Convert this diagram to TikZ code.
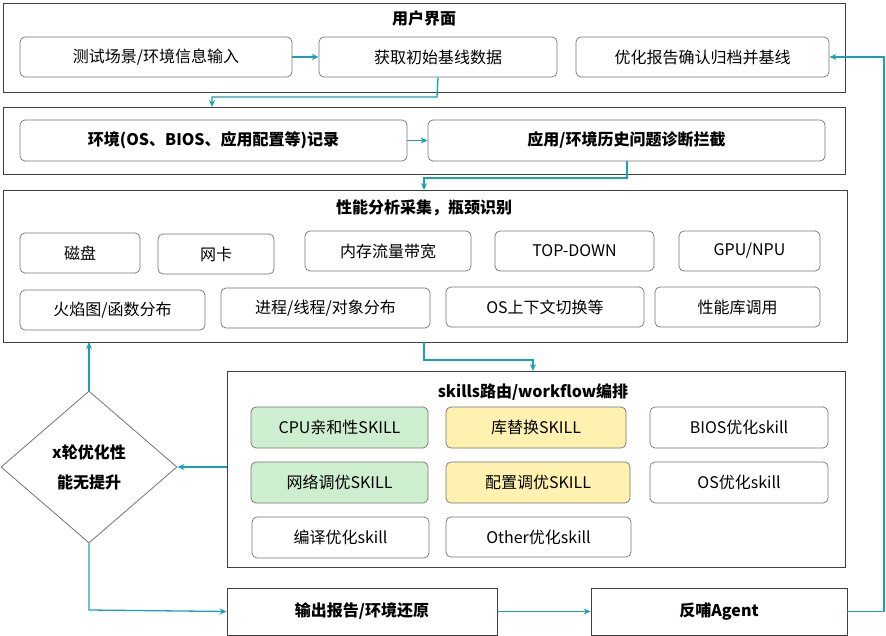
\documentclass[tikz,border=0pt]{standalone}
\usepackage{fontspec}
\setmainfont{Noto Sans CJK SC}
\usetikzlibrary{arrows.meta,shapes.geometric}
\definecolor{teal}{HTML}{1BA1B5}
\definecolor{gfill}{HTML}{CDEFCF}
\definecolor{yfill}{HTML}{FFF2B0}
\begin{document}
\begin{tikzpicture}[x=1pt,y=-1pt,
 outer/.style={draw=black!75,line width=0.8pt},
 bx/.style={draw=black!55,rounded corners=5pt,line width=0.7pt,font=\fontsize{16}{18}\selectfont},
 ttl/.style={font=\bfseries\fontsize{16}{18}\selectfont},
 ar/.style={draw=teal,line width=1.3pt,-{Stealth[length=7pt,width=6pt]}}]
\useasboundingbox (0,0) rectangle (886,636);
\newcommand\bxn[6][]{\node[bx,#1,minimum width=#4-#2,minimum height=#5-#3] (#6) at ({(#2+#4)/2},{(#3+#5)/2})}
% outer boxes
\node[outer,minimum width=842,minimum height=89] (o1) at (424,47.5) {};
\node[ttl] (t1) at (424,18) {用户界面};
\node[outer,minimum width=842,minimum height=67] (o2) at (424,140.5) {};
\node[outer,minimum width=844,minimum height=152] (o3) at (425,266) {};
\node[ttl] (t3) at (424,208) {性能分析采集，瓶颈识别};
\node[outer,minimum width=618,minimum height=196] (o4) at (536,469) {};
\node[ttl] (t4) at (533,392) {skills路由/workflow编排};
% boxes
\bxn{20}{37}{292}{77}{a1} {测试场景/环境信息输入};
\bxn{319}{37}{557}{77}{a2} {获取初始基线数据};
\bxn{576}{37}{829}{77}{a3} {优化报告确认归档并基线};
\bxn[font=\bfseries\fontsize{16}{18}\selectfont]{20}{120}{407}{161}{b1} {环境(OS、BIOS、应用配置等)记录};
\bxn[font=\bfseries\fontsize{16}{18}\selectfont]{428}{120}{825}{161}{b2} {应用/环境历史问题诊断拦截};
\bxn{20}{233}{140}{273}{c1} {磁盘};
\bxn{158}{234}{274}{274}{c2} {网卡};
\bxn{305}{231}{471}{271}{c3} {内存流量带宽};
\bxn{495}{231}{654}{271}{c4} {TOP-DOWN};
\bxn{679}{231}{820}{271}{c5} {GPU/NPU};
\bxn{20}{290}{205}{330}{c6} {火焰图/函数分布};
\bxn{221}{288}{430}{328}{c7} {进程/线程/对象分布};
\bxn{446}{287}{644}{327}{c8} {OS上下文切换等};
\bxn{655}{287}{820}{327}{c9} {性能库调用};
\bxn[fill=gfill]{251}{407}{428}{448}{d1} {CPU亲和性SKILL};
\bxn[fill=yfill]{446}{407}{626}{448}{d2} {库替换SKILL};
\bxn{650}{407}{828}{448}{d3} {BIOS优化skill};
\bxn[fill=gfill]{251}{462}{428}{503}{d4} {网络调优SKILL};
\bxn[fill=yfill]{446}{462}{630}{503}{d5} {配置调优SKILL};
\bxn{650}{462}{828}{503}{d6} {OS优化skill};
\bxn{252}{517}{429}{558}{d7} {编译优化skill};
\bxn{446}{517}{631}{557}{d8} {Other优化skill};
\node[outer,draw=black!55,diamond,minimum width=176,minimum height=152,inner sep=0,align=center,font=\bfseries\fontsize{16}{30}\selectfont] (dm) at (89,467) {x轮优化性\\能无提升};
\node[outer,minimum width=270,minimum height=47,ttl] (e1) at (362,611.5) {输出报告/环境还原};
\node[outer,minimum width=256,minimum height=47,ttl] (e2) at (719,611.5) {反哺Agent};
% arrows
\draw[ar] (a1) -- (a2);
\draw[ar] (a2.south) -- (437,97) -- (212,97) -- (212,107);
\draw[ar] (b1) -- (b2);
\draw[ar] (627,161) -- (627,178) -- (424,178) -- (424,190);
\draw[ar] (424,342) -- (424,360) -- (533,360) -- (533,371);
\draw[ar] (227,467) -- (dm.east);
\draw[ar] (dm.north) -- (89,342);
\draw[ar] (dm.south) -- (89,610) -- (e1.west);
\draw[ar] (e1) -- (e2);
\draw[ar] (e2.east) -- (884,611.5) -- (884,57) -- (a3.east);
\end{tikzpicture}
\end{document}
